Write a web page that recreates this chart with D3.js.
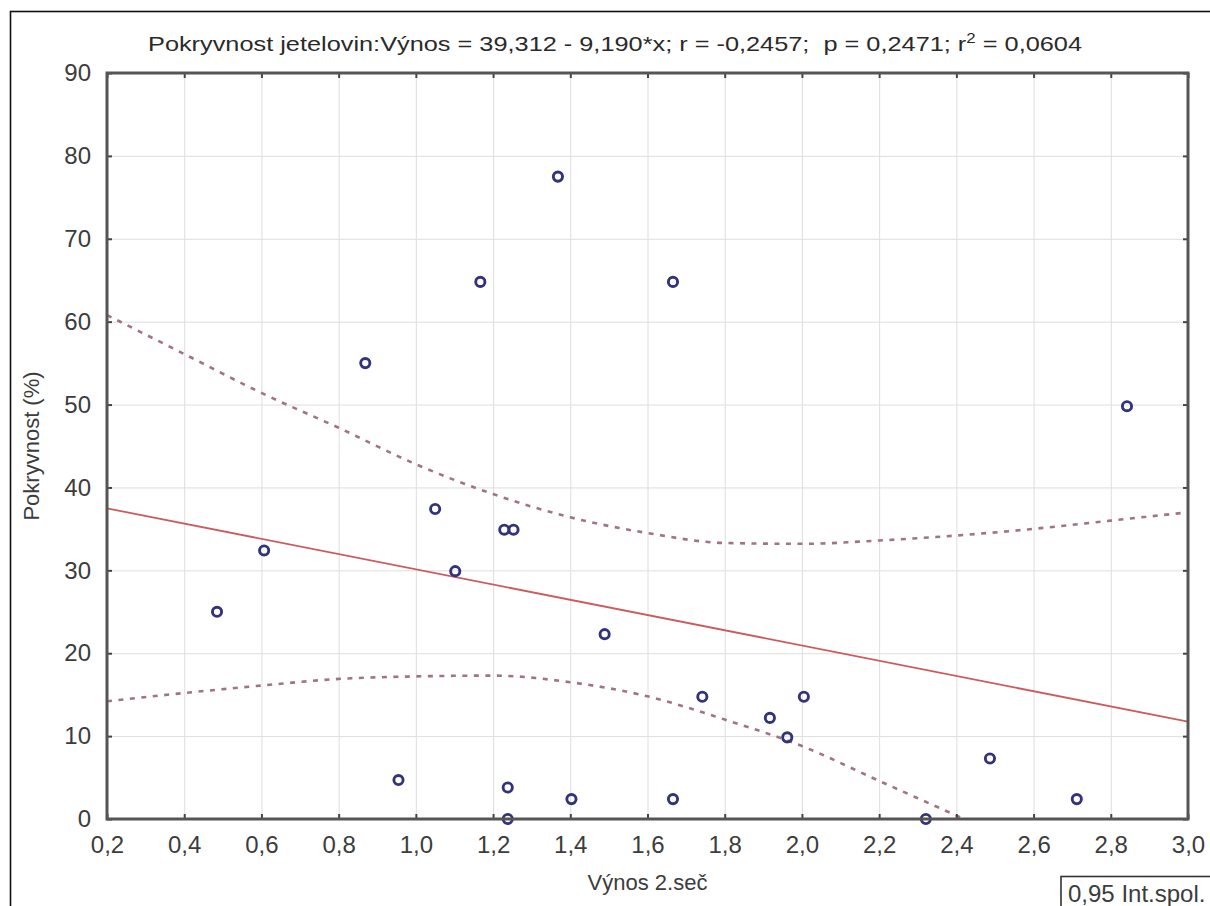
<!DOCTYPE html>
<html>
<head>
<meta charset="utf-8">
<script src="https://cdn.jsdelivr.net/npm/d3@7"></script>
<style>
  html, body { margin: 0; padding: 0; background: #fff; }
  svg { display: block; }
</style>
</head>
<body>
<div id="chart"></div>
<script>
// data
const pointX = [0.485, 0.607, 0.869, 0.955, 1.050, 1.102, 1.167, 1.229, 1.253, 1.238, 1.238,
                1.368, 1.403, 1.489, 1.666, 1.666, 1.742, 1.917, 1.962, 2.005, 2.321, 2.487, 2.712, 2.842];
const pointY = [25.0, 32.4, 55.0, 4.7, 37.4, 29.9, 64.8, 34.9, 34.9, 3.8, 0,
                77.5, 2.4, 22.3, 64.8, 2.4, 14.75, 12.2, 9.85, 14.75, 0, 7.3, 2.4, 49.8];

// regression printed in the title: y = a + b*x
const regCoef = [39.312, -9.190];

// 95% band, read at the x ticks
const bandX = [0.2, 0.4, 0.6, 0.8, 1.0, 1.2, 1.4, 1.6, 1.8, 2.0, 2.2, 2.4, 2.6, 2.8, 3.0];
const upperBand = [60.8, 56.1, 51.4, 47.2, 42.8, 39.2, 36.4, 34.5, 33.3, 33.2, 33.6, 34.2, 35.0, 36.0, 37.0];
const lowerBandX = [0.2, 0.4, 0.6, 0.8, 1.0, 1.2, 1.4, 1.6, 1.8, 2.0, 2.2, 2.42];
const lowerBand = [14.2, 15.2, 16.1, 16.9, 17.2, 17.3, 16.5, 14.8, 12.0, 8.8, 4.6, 0];

const xTicks = [0.2, 0.4, 0.6, 0.8, 1.0, 1.2, 1.4, 1.6, 1.8, 2.0, 2.2, 2.4, 2.6, 2.8, 3.0];
const yTicks = [0, 10, 20, 30, 40, 50, 60, 70, 80, 90];

const titleText = 'Pokryvnost jetelovin:Výnos = 39,312 - 9,190*x; r = -0,2457;  p = 0,2471; r';
const titleTail = ' = 0,0604';
const xTitle = 'Výnos 2.seč';
const yTitle = 'Pokryvnost (%)';
const legendText = '0,95 Int.spol.';

const W = 1210, H = 906;
const plot = { left: 107, right: 1188, top: 73, bottom: 819 };

const svg = d3.select('#chart').append('svg')
    .attr('width', W)
    .attr('height', H)
    .style('font-family', '"Liberation Sans", Arial, sans-serif');

// outer frame (runs off the right and bottom edges)
svg.append('rect')
    .attr('x', 10.5).attr('y', 11.5)
    .attr('width', W + 20).attr('height', H + 20)
    .attr('fill', 'none')
    .attr('stroke', '#111')
    .attr('stroke-width', 1.6);

const x = d3.scaleLinear().domain([0.2, 3.0]).range([plot.left, plot.right]);
const y = d3.scaleLinear().domain([0, 90]).range([plot.bottom, plot.top]);
const fmtX = d => d3.format('.1f')(d).replace('.', ',');

// grid
svg.append('g')
    .attr('transform', `translate(0,${plot.bottom})`)
    .call(d3.axisBottom(x).tickValues(xTicks).tickSize(-(plot.bottom - plot.top)).tickFormat(''))
    .call(g => g.select('.domain').remove())
    .call(g => g.selectAll('line').attr('stroke', '#dedede').attr('stroke-width', 1));
svg.append('g')
    .attr('transform', `translate(${plot.left},0)`)
    .call(d3.axisLeft(y).tickValues(yTicks).tickSize(-(plot.right - plot.left)).tickFormat(''))
    .call(g => g.select('.domain').remove())
    .call(g => g.selectAll('line').attr('stroke', '#dedede').attr('stroke-width', 1));

svg.append('clipPath').attr('id', 'plotClip')
    .append('rect')
    .attr('x', plot.left).attr('y', plot.top)
    .attr('width', plot.right - plot.left).attr('height', plot.bottom - plot.top);

const inner = svg.append('g').attr('clip-path', 'url(#plotClip)');

// confidence band
const bandLine = d3.line()
    .x(d => x(d[0]))
    .y(d => y(d[1]))
    .curve(d3.curveMonotoneX);

inner.append('path')
    .datum(bandX.map((v, i) => [v, upperBand[i]]))
    .attr('d', bandLine)
    .attr('fill', 'none')
    .attr('stroke', '#a07582')
    .attr('stroke-width', 2.6)
    .attr('stroke-dasharray', '5,6.5');

inner.append('path')
    .datum(lowerBandX.map((v, i) => [v, lowerBand[i]]))
    .attr('d', bandLine)
    .attr('fill', 'none')
    .attr('stroke', '#a07582')
    .attr('stroke-width', 2.6)
    .attr('stroke-dasharray', '5,6.5');

// regression line
const xd = x.domain();
inner.append('line')
    .attr('x1', x(xd[0])).attr('y1', y(regCoef[0] + regCoef[1] * xd[0]))
    .attr('x2', x(xd[1])).attr('y2', y(regCoef[0] + regCoef[1] * xd[1]))
    .attr('stroke', '#cc5a5e')
    .attr('stroke-width', 1.8);

// points
svg.append('g').selectAll('circle')
    .data(pointX.map((v, i) => [v, pointY[i]]))
    .enter()
    .append('circle')
    .attr('cx', d => x(d[0]))
    .attr('cy', d => y(d[1]))
    .attr('r', 4.6)
    .attr('fill', 'none')
    .attr('stroke', '#32337a')
    .attr('stroke-width', 2.9);

// frame + inward ticks on all four sides
const styleAxis = g => {
    g.select('.domain').remove();
    g.selectAll('line').attr('stroke', '#444').attr('stroke-width', 2);
    g.selectAll('text').attr('fill', '#3c3c3c').style('font-size', '24px');
};

svg.append('g')
    .attr('transform', `translate(0,${plot.bottom})`)
    .call(d3.axisBottom(x).tickValues(xTicks).tickSize(-5).tickPadding(17).tickFormat(fmtX))
    .call(styleAxis);
svg.append('g')
    .attr('transform', `translate(${plot.left},0)`)
    .call(d3.axisLeft(y).tickValues(yTicks).tickSize(-5).tickPadding(16).tickFormat(d3.format('d')))
    .call(styleAxis);
svg.append('g')
    .attr('transform', `translate(0,${plot.top})`)
    .call(d3.axisTop(x).tickValues(xTicks).tickSize(-5).tickFormat(''))
    .call(styleAxis);
svg.append('g')
    .attr('transform', `translate(${plot.right},0)`)
    .call(d3.axisRight(y).tickValues(yTicks).tickSize(-5).tickFormat(''))
    .call(styleAxis);

svg.append('rect')
    .attr('x', plot.left).attr('y', plot.top)
    .attr('width', plot.right - plot.left).attr('height', plot.bottom - plot.top)
    .attr('fill', 'none')
    .attr('stroke', '#555')
    .attr('stroke-width', 3);

// title
const title = svg.append('text')
    .attr('x', 615)
    .attr('y', 51)
    .attr('text-anchor', 'middle')
    .attr('fill', '#2a2a2a')
    .style('white-space', 'pre')
    .style('font-family', '"Liberation Sans Narrow", "Arial Narrow", "Liberation Sans", sans-serif')
    .style('font-size', '21px')
    .attr('textLength', 934)
    .attr('lengthAdjust', 'spacingAndGlyphs');
title.append('tspan').text(titleText);
title.append('tspan').attr('dy', -8).style('font-size', '14px').text('2');
title.append('tspan').attr('dy', 8).text(titleTail);

// axis titles
svg.append('text')
    .attr('x', (plot.left + plot.right) / 2)
    .attr('y', 890)
    .attr('text-anchor', 'middle')
    .attr('fill', '#3c3c3c')
    .style('font-size', '22px')
    .text(xTitle);

svg.append('text')
    .attr('transform', `translate(39,${(plot.top + plot.bottom) / 2}) rotate(-90)`)
    .attr('text-anchor', 'middle')
    .attr('fill', '#3c3c3c')
    .style('font-size', '22px')
    .text(yTitle);

// legend box (cut by the page edge)
svg.append('rect')
    .attr('x', 1061).attr('y', 876.5)
    .attr('width', 200).attr('height', 60)
    .attr('fill', '#fff')
    .attr('stroke', '#333')
    .attr('stroke-width', 1.6);
svg.append('text')
    .attr('x', 1068)
    .attr('y', 902)
    .attr('fill', '#3c3c3c')
    .style('font-size', '24px')
    .text(legendText);
</script>
</body>
</html>
